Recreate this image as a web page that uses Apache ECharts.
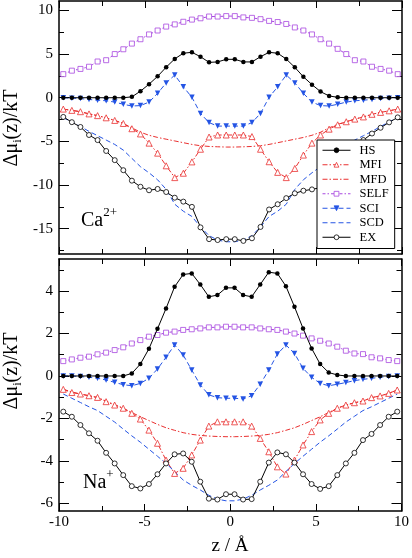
<!DOCTYPE html>
<html><head><meta charset="utf-8">
<script src="https://cdn.jsdelivr.net/npm/echarts@6/dist/echarts.min.js"></script>
<style>html,body{margin:0;padding:0;background:#fff}#c{width:412px;height:558px}</style>
</head><body><div id="c"></div>
<script>
// z positions (Å)
const zPos = [-9.75,-9.25,-8.75,-8.25,-7.75,-7.25,-6.75,-6.25,-5.75,-5.25,-4.75,-4.25,-3.75,-3.25,-2.75,-2.25,-1.75,-1.25,-0.75,-0.25,
               0.25,0.75,1.25,1.75,2.25,2.75,3.25,3.75,4.25,4.75,5.25,5.75,6.25,6.75,7.25,7.75,8.25,8.75,9.25,9.75];
const seriesNames = ['HS','MFI','MFD','SELF','SCI','SCD','EX'];
const xTickLabels = [-10,-5,0,5,10];
const caTickLabels = [-15,-10,-5,0,5,10];
const naTickLabels = [-6,-4,-2,0,2,4];

// Ca2+ panel
const HS_Ca   = [0,0,0,0,0,0,0,0,0.1,0.75,1.55,2.45,3.5,4.45,5.1,5.2,4.7,4.05,4.1,4.4,4.4,4.1,4.1,4.7,5.2,5.1,4.43,3.48,2.4,1.5,0.7,0.2,0.05,0,0,0,0,0,0,0];
const MFI_Ca  = [-1.3,-1.45,-1.6,-1.85,-2.05,-2.3,-2.6,-2.95,-3.55,-4.15,-5.2,-6.35,-7.8,-9.15,-8.65,-7.35,-5.9,-4.5,-4.27,-4.27,-4.27,-4.27,-4.45,-5.9,-7.33,-8.55,-9.15,-8.1,-6.57,-5.2,-4.27,-3.6,-3.1,-2.75,-2.45,-2.2,-1.9,-1.68,-1.5,-1.3];
const MFD_Ca  = [-1.3,-1.45,-1.6,-1.85,-2.05,-2.3,-2.6,-2.95,-3.45,-3.95,-4.3,-4.55,-4.75,-4.95,-5.15,-5.35,-5.5,-5.58,-5.62,-5.65,-5.65,-5.62,-5.58,-5.5,-5.35,-5.15,-4.95,-4.75,-4.55,-4.3,-3.95,-3.45,-3.05,-2.75,-2.45,-2.2,-1.9,-1.68,-1.5,-1.3];
const SELF_Ca = [2.7,3.1,3.3,3.55,4.15,4.3,5.0,5.55,6.2,6.7,7.25,7.7,8.15,8.4,8.7,8.95,9.1,9.3,9.3,9.35,9.35,9.2,9.15,9.0,8.8,8.67,8.45,8.05,7.7,7.25,6.7,6.2,5.6,5.0,4.3,4.15,3.55,3.3,3.1,2.7];
const SCI_Ca  = [0,-0.05,-0.1,-0.2,-0.28,-0.35,-0.5,-0.75,-0.95,-0.9,-0.5,0.5,1.7,2.6,1.25,0.05,-1.8,-2.85,-3.25,-3.25,-3.25,-3.25,-2.85,-1.8,0.05,1.25,2.6,1.7,0.5,-0.5,-0.9,-0.95,-0.75,-0.5,-0.35,-0.28,-0.2,-0.1,-0.05,0];
const SCD_Ca  = [-2.3,-2.75,-3.3,-3.85,-4.35,-4.85,-5.35,-6.0,-6.95,-7.9,-8.6,-9.4,-10.5,-12.2,-13.0,-13.6,-14.8,-15.8,-16.3,-16.5,-16.5,-16.3,-15.8,-14.8,-13.6,-13.0,-12.2,-10.5,-9.4,-8.6,-7.9,-6.95,-6.0,-5.35,-4.85,-4.35,-3.85,-3.3,-2.75,-2.3];
const EX_Ca   = [-2.2,-2.8,-3.35,-4.27,-4.85,-6.1,-7.15,-8.3,-9.5,-10.2,-10.6,-10.45,-10.8,-11.45,-11.9,-12.5,-14.85,-16.2,-16.3,-16.2,-16.2,-16.4,-16.1,-14.8,-12.8,-12.2,-11.5,-10.95,-10.65,-10.5,-10.3,-9.5,-8.3,-7.15,-6.1,-4.85,-4.1,-3.44,-2.82,-2.25];

// Na+ panel
const HS_Na   = [0,0,0,0,0,0,0,0,0.12,0.56,1.28,2.22,3.18,4.2,4.78,4.83,4.31,3.73,3.81,4.15,4.15,3.81,3.73,4.31,4.89,4.83,4.23,3.26,2.24,1.3,0.56,0.16,0.05,0,0,0,0,0,0,0];
const MFI_Na  = [-0.63,-0.78,-0.85,-0.93,-1.01,-1.21,-1.37,-1.52,-1.76,-2.03,-2.55,-3.17,-3.96,-4.59,-4.35,-3.72,-3.02,-2.36,-2.16,-2.16,-2.16,-2.16,-2.36,-2.94,-3.57,-4.28,-4.62,-3.96,-3.25,-2.62,-2.07,-1.76,-1.52,-1.37,-1.26,-1.18,-1.02,-0.94,-0.82,-0.66];
const MFD_Na  = [-0.63,-0.75,-0.85,-0.93,-1.02,-1.18,-1.35,-1.52,-1.72,-1.92,-2.1,-2.28,-2.44,-2.56,-2.67,-2.75,-2.8,-2.83,-2.85,-2.86,-2.86,-2.85,-2.83,-2.8,-2.75,-2.67,-2.56,-2.44,-2.28,-2.1,-1.92,-1.72,-1.52,-1.37,-1.26,-1.18,-1.02,-0.94,-0.82,-0.66];
const SELF_Na = [0.7,0.78,0.86,0.91,1.02,1.1,1.22,1.35,1.53,1.69,1.85,1.93,2.04,2.09,2.17,2.2,2.24,2.29,2.29,2.32,2.32,2.29,2.29,2.24,2.2,2.17,2.09,2.0,1.9,1.77,1.66,1.53,1.38,1.19,1.06,1.03,0.88,0.83,0.75,0.7];
const SCI_Na  = [0,0,-0.03,-0.06,-0.11,-0.19,-0.3,-0.41,-0.46,-0.35,-0.11,0.33,0.88,1.46,0.99,0.28,-0.42,-0.89,-1.02,-1.05,-1.05,-1.08,-0.93,-0.39,0.28,1.03,1.46,1.06,0.36,-0.06,-0.35,-0.46,-0.39,-0.31,-0.22,-0.16,-0.11,-0.06,-0.03,0];
const SCD_Na  = [-0.85,-1.05,-1.25,-1.45,-1.63,-1.9,-2.17,-2.5,-2.82,-3.12,-3.45,-3.78,-4.12,-4.5,-4.9,-5.15,-5.37,-5.62,-5.8,-5.88,-5.88,-5.8,-5.62,-5.37,-5.15,-4.9,-4.5,-4.12,-3.78,-3.45,-3.12,-2.82,-2.5,-2.17,-1.9,-1.63,-1.45,-1.25,-1.05,-0.85];
const EX_Na   = [-1.68,-1.92,-2.31,-2.7,-3.05,-3.62,-4.12,-4.67,-5.19,-5.3,-5.09,-4.63,-4.12,-3.69,-3.65,-4.04,-4.98,-5.78,-5.82,-5.57,-5.57,-5.82,-5.8,-4.98,-4.08,-3.6,-3.69,-4.08,-4.63,-5.09,-5.32,-5.19,-4.67,-4.12,-3.62,-3.02,-2.73,-2.31,-1.92,-1.68];

const FONT = 'Liberation Serif';
const RED = '#ea3030', PURPLE = '#a848e0', BLUE = '#2454e4', BLACK = '#000';

const styles = {
  HS:   {color: BLACK, type: 'solid', symbol: 'circle', size: 4.5, bw: 0, fill: BLACK},
  MFI:  {color: RED, type: [5,2,1.5,2], symbol: 'triangle', size: 6, bw: 0.8, fill: '#fff'},
  MFD:  {color: RED, type: [5,2,1.5,2], symbol: 'none', size: 0, bw: 0, fill: RED},
  SELF: {color: PURPLE, type: [3,2,1.5,2], symbol: 'rect', size: 5, bw: 0.8, fill: '#fff'},
  SCI:  {color: BLUE, type: [5,3], symbol: 'triangle', size: 5.5, rotate: 180, bw: 0, fill: BLUE},
  SCD:  {color: BLUE, type: [5,3], symbol: 'none', size: 0, bw: 0, fill: BLUE},
  EX:   {color: BLACK, type: 'solid', symbol: 'circle', size: 5, bw: 0.8, fill: '#fff'}
};

function pts(vals){ return zPos.map((x,i)=>[x, vals[i]]); }
function mk(name, vals, xi, yi){
  const s = styles[name];
  const noSym = s.symbol === 'none';
  return {
    name, type: 'line', xAxisIndex: xi, yAxisIndex: yi,
    data: pts(vals),
    symbol: noSym ? 'circle' : s.symbol, symbolSize: s.size, symbolRotate: s.rotate || 0,
    showSymbol: !noSym,
    lineStyle: {color: s.color, width: 1, type: s.type},
    itemStyle: {color: s.fill, borderColor: s.color, borderWidth: s.bw, opacity: noSym ? 0 : 1},
    emphasis: {disabled: true},
    z: name === 'EX' || name === 'HS' ? 3 : 2
  };
}

function xAx(grid, pos, labels){
  return {
    type: 'value', gridIndex: grid, position: pos, min: -10, max: 10, interval: 5,
    axisLine: {show: true, onZero: false, lineStyle: {color: BLACK, width: 1.5}},
    axisTick: {show: true, inside: true, length: 7, lineStyle: {color: BLACK, width: 1}},
    minorTick: {show: true, splitNumber: 2, length: 5, lineStyle: {color: BLACK, width: 1}},
    axisLabel: {show: labels, margin: 4, fontFamily: FONT, fontSize: 15, color: BLACK,
      customValues: xTickLabels},
    splitLine: {show: false}
  };
}
function yAx(grid, pos, min, max, vals, major, labels, showLine){
  return {
    type: 'value', gridIndex: grid, position: pos, min, max,
    axisLine: {show: showLine, onZero: false, lineStyle: {color: BLACK, width: 1.5}},
    axisTick: {show: true, inside: true, length: major ? 10 : 5, customValues: vals, lineStyle: {color: BLACK, width: 1}},
    axisLabel: {show: labels, margin: 6, fontFamily: FONT, fontSize: 15, color: BLACK, customValues: vals},
    splitLine: {show: false}
  };
}

const caMinor = [-17.5,-12.5,-7.5,-2.5,2.5,7.5];
const naMinor = [-5,-3,-1,1,3,5];

const series = [];
const caVals = {HS: HS_Ca, MFI: MFI_Ca, MFD: MFD_Ca, SELF: SELF_Ca, SCI: SCI_Ca, SCD: SCD_Ca, EX: EX_Ca};
const naVals = {HS: HS_Na, MFI: MFI_Na, MFD: MFD_Na, SELF: SELF_Na, SCI: SCI_Na, SCD: SCD_Na, EX: EX_Na};
seriesNames.forEach(n => series.push(mk(n, caVals[n], 0, 0)));
seriesNames.forEach(n => series.push(mk(n, naVals[n], 2, 4)));

const chart = echarts.init(document.getElementById('c'), null, {renderer: 'canvas'});
chart.setOption({
  animation: false,
  backgroundColor: '#fff',
  grid: [
    {left: 59, top: 1, width: 343, height: 253},
    {left: 59, top: 259, width: 343, height: 252}
  ],
  xAxis: [xAx(0,'bottom',false), xAx(0,'top',false), xAx(1,'bottom',true), xAx(1,'top',false)],
  yAxis: [
    yAx(0,'left',-17.9,11.08,caTickLabels,true,true,true),
    yAx(0,'left',-17.9,11.08,caMinor,false,false,false),
    yAx(0,'right',-17.9,11.08,caTickLabels,true,false,true),
    yAx(0,'right',-17.9,11.08,caMinor,false,false,false),
    yAx(1,'left',-6.36,5.51,naTickLabels,true,true,true),
    yAx(1,'left',-6.36,5.51,naMinor,false,false,false),
    yAx(1,'right',-6.36,5.51,naTickLabels,true,false,true),
    yAx(1,'right',-6.36,5.51,naMinor,false,false,false)
  ],
  legend: {
    data: seriesNames, orient: 'vertical', left: 317, top: 140,
    itemWidth: 28, itemHeight: 6, itemGap: 0,
    padding: [3, 6, 4, 5],
    backgroundColor: '#fff', borderColor: BLACK, borderWidth: 1,
    selectedMode: false,
    itemStyle: {borderWidth: 0.8},
    lineStyle: {width: 1},
    textStyle: {fontFamily: FONT, fontSize: 12.5, color: BLACK, lineHeight: 14.5, padding: [0,0,0,4]}
  },
  graphic: [
    {type: 'text', x: 12, y: 128, rotation: Math.PI/2, style: {
      text: '{a|Δμ}{b|i}{a|(z)/kT}', align: 'center', verticalAlign: 'middle',
      rich: {a: {fontFamily: FONT, fontSize: 20, fill: BLACK, lineHeight: 24},
             b: {fontFamily: FONT, fontSize: 12, fill: BLACK, lineHeight: 24, verticalAlign: 'bottom'}}}},
    {type: 'text', x: 12, y: 371, rotation: Math.PI/2, style: {
      text: '{a|Δμ}{b|i}{a|(z)/kT}', align: 'center', verticalAlign: 'middle',
      rich: {a: {fontFamily: FONT, fontSize: 20, fill: BLACK, lineHeight: 24},
             b: {fontFamily: FONT, fontSize: 12, fill: BLACK, lineHeight: 24, verticalAlign: 'bottom'}}}},
    {type: 'text', x: 81, y: 221, style: {
      text: '{a|Ca}{b|2+}', align: 'left', verticalAlign: 'middle',
      rich: {a: {fontFamily: FONT, fontSize: 20, fill: BLACK, lineHeight: 30},
             b: {fontFamily: FONT, fontSize: 13, fill: BLACK, lineHeight: 30, verticalAlign: 'top'}}}},
    {type: 'text', x: 83, y: 483, style: {
      text: '{a|Na}{b|+}', align: 'left', verticalAlign: 'middle',
      rich: {a: {fontFamily: FONT, fontSize: 20, fill: BLACK, lineHeight: 30},
             b: {fontFamily: FONT, fontSize: 13, fill: BLACK, lineHeight: 30, verticalAlign: 'top'}}}},
    {type: 'text', x: 230, y: 546, style: {
      text: 'z / Å', align: 'center', verticalAlign: 'middle',
      font: '19px "Liberation Serif"', fill: BLACK}}
  ],
  series
});
</script>
</body></html>
